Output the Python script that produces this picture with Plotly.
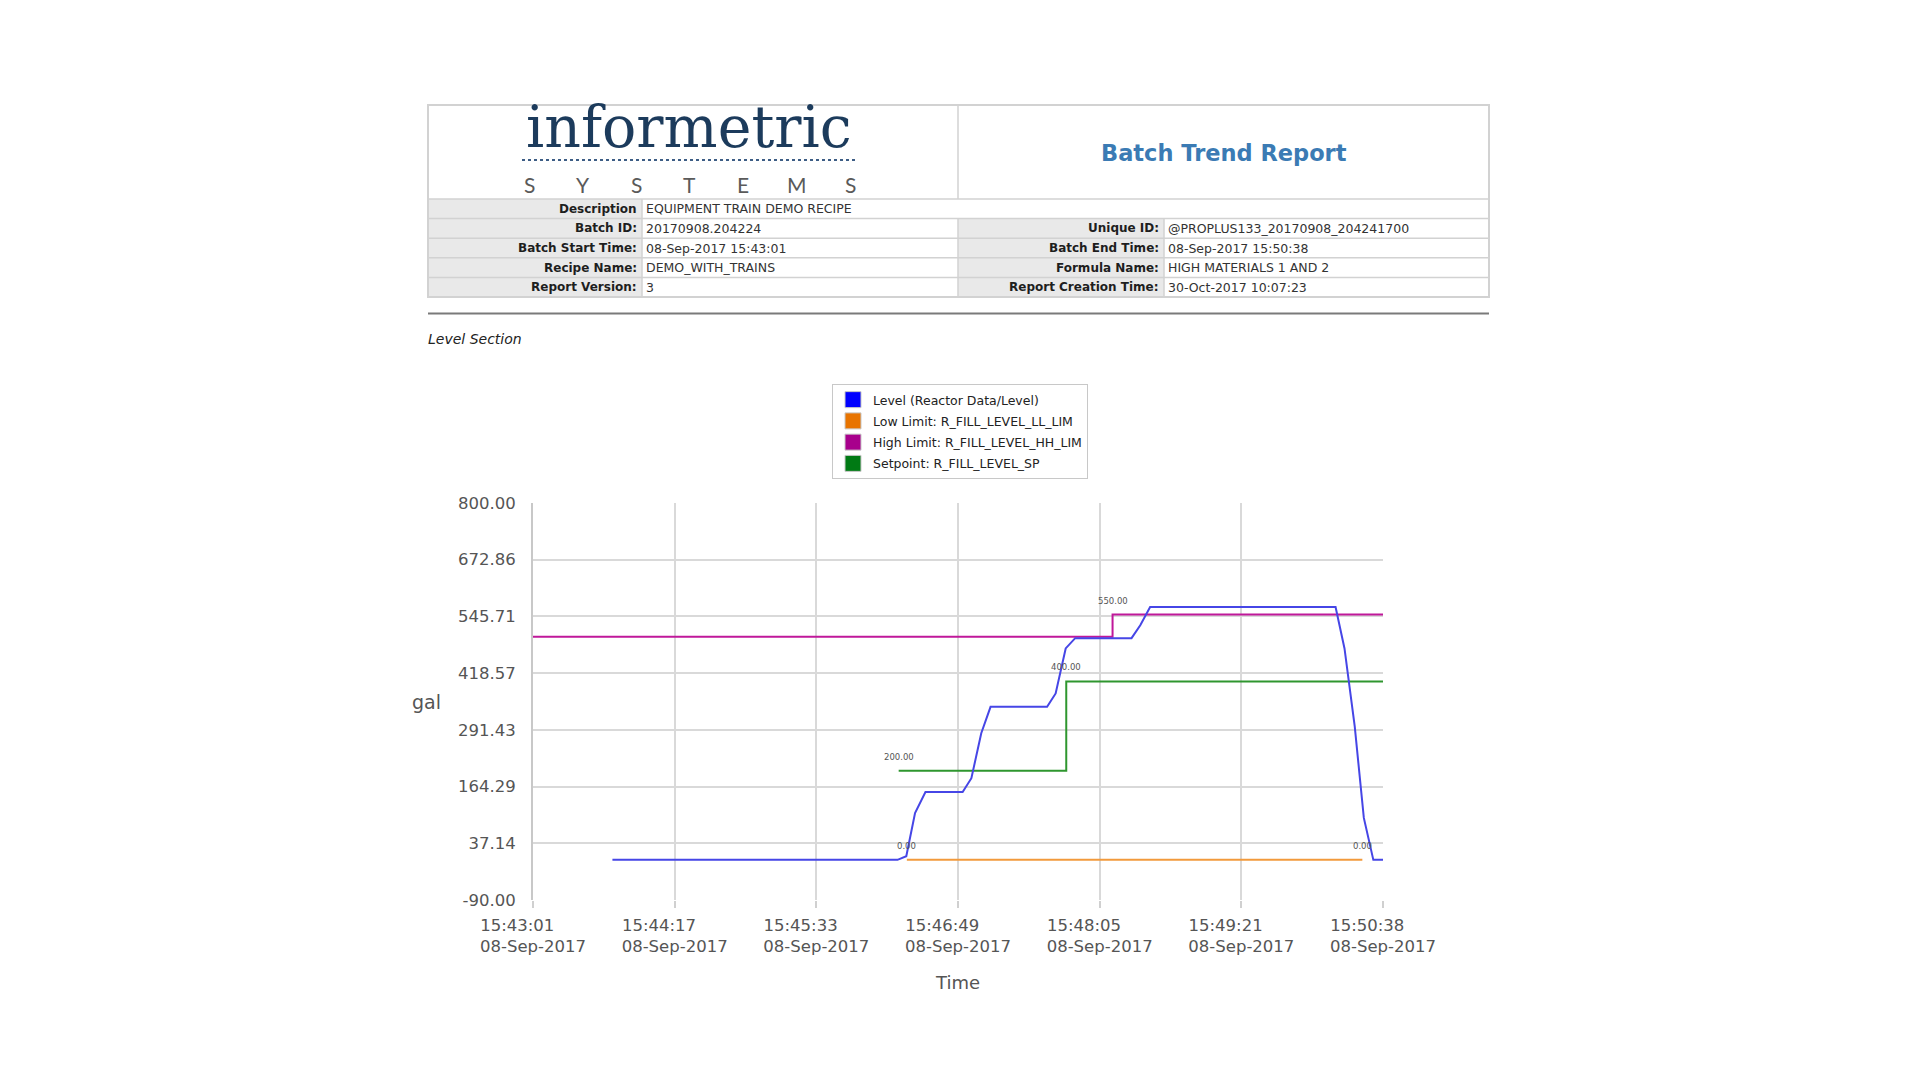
import datetime as dt
import plotly.graph_objects as go

# ---------------- data ----------------
batch_start = dt.datetime(2017, 9, 8, 15, 43, 1)
batch_seconds = 457  # 15:43:01 -> 15:50:38

level_name = "Level (Reactor Data/Level)"
level_t = [42.7, 196.0, 200.7, 205.4, 211.0, 231.0, 235.7, 241.0, 246.0, 276.4, 281.0,
           286.4, 291.5, 321.8, 326.5, 331.8, 431.5, 436.3, 441.8, 446.7, 451.8, 457.0]
level_v = [0, 0, 8, 105, 152, 152, 183, 284, 343, 343, 373,
           474, 497, 497, 526, 567, 567, 474, 299, 94, 0, 0]

low_name = "Low Limit: R_FILL_LEVEL_LL_LIM"
low_t = [201.0, 445.9]
low_v = [0.0, 0.0]

high_name = "High Limit: R_FILL_LEVEL_HH_LIM"
high_t = [0.0, 311.6, 457.0]
high_v = [500.0, 550.0, 550.0]

sp_name = "Setpoint: R_FILL_LEVEL_SP"
sp_t = [196.6, 286.7, 457.0]
sp_v = [200.0, 400.0, 400.0]

y_min, y_max = -90.0, 800.0
n_y_intervals = 7
x_tick_times = ["15:43:01", "15:44:17", "15:45:33", "15:46:49", "15:48:05", "15:49:21", "15:50:38"]
x_tick_date = "08-Sep-2017"

desc_label, desc_value = "Description", "EQUIPMENT TRAIN DEMO RECIPE"
left_labels = ["Batch ID:", "Batch Start Time:", "Recipe Name:", "Report Version:"]
left_values = ["20170908.204224", "08-Sep-2017 15:43:01", "DEMO_WITH_TRAINS", "3"]
right_labels = ["Unique ID:", "Batch End Time:", "Formula Name:", "Report Creation Time:"]
right_values = ["@PROPLUS133_20170908_204241700", "08-Sep-2017 15:50:38",
                "HIGH MATERIALS 1 AND 2", "30-Oct-2017 10:07:23"]

# ---------------- helpers ----------------
W_PX, H_PX = 1920, 1080
PL, PR, PT, PB = 533, 1383, 503, 900     # plot area in pixels
PW, PH = PR - PL, PB - PT


def px(x):
    return (x - PL) / PW


def py(y):
    return (PB - y) / PH


def to_time(s):
    return batch_start + dt.timedelta(seconds=s)


FONT = "DejaVu Sans"
line_colors = {"level": "#4646e6", "low": "#f29a3c", "high": "#c0189a", "sp": "#2f962f"}
legend_colors = {"level": "#0000ff", "low": "#e87400", "high": "#a8008c", "sp": "#007a14"}

fig = go.Figure()

series = [
    ("level", level_name, level_t, level_v, "linear"),
    ("low", low_name, low_t, low_v, "hv"),
    ("high", high_name, high_t, high_v, "hv"),
    ("sp", sp_name, sp_t, sp_v, "hv"),
]
# draw order: limits first, level on top
for key, name, ts, vs, shape in [series[2], series[3], series[1], series[0]]:
    fig.add_trace(go.Scatter(
        x=[to_time(t) for t in ts], y=vs, mode="lines", name=name, legendgroup=key,
        line=dict(color=line_colors[key], width=2, shape=shape),
        showlegend=False, hoverinfo="skip"))

# legend proxies (square swatches)
for key, name, ts, vs, shape in series:
    fig.add_trace(go.Scatter(
        x=[None], y=[None], mode="markers", name=name, legendgroup=key,
        marker=dict(symbol="square", size=16, color=legend_colors[key],
                    line=dict(color="#c8c8c8", width=1)),
        showlegend=True))

# data labels at set-point / limit change points
label_points = [(sp_t[0], sp_v[0]), (sp_t[1], sp_v[1]), (high_t[1], high_v[1]),
                (low_t[0], low_v[0]), (low_t[1], low_v[1])]
annotations = []
for t, v in label_points:
    annotations.append(dict(x=to_time(t), y=v, xref="x", yref="y", text=f"{v:.2f}",
                            showarrow=False, yshift=14, xanchor="center", yanchor="middle",
                            font=dict(family=FONT, size=8.5, color="#555")))

# ---------------- header (report table) ----------------
shapes = []
TBL_L, TBL_R, TBL_T, HDR_B = 428, 1489, 105, 199
ROW_H = 19.6
MID, LBL1, LBL2 = 958, 642, 1164
TBL_B = HDR_B + 5 * ROW_H
BORDER = "#d2d2d2"
GREY = "#e9e9e9"


def rect(x0, y0, x1, y1, fill=None, line=None, width=1.5):
    shapes.append(dict(type="rect", xref="paper", yref="paper",
                       x0=px(x0), x1=px(x1), y0=py(y1), y1=py(y0),
                       fillcolor=fill if fill else "rgba(0,0,0,0)",
                       line=dict(color=line if line else "rgba(0,0,0,0)", width=width if line else 0),
                       layer="below"))


def hline(x0, x1, y, color=BORDER, width=1.5, dash=None):
    d = dict(type="line", xref="paper", yref="paper", x0=px(x0), x1=px(x1), y0=py(y), y1=py(y),
             line=dict(color=color, width=width))
    if dash:
        d["line"]["dash"] = dash
    shapes.append(d)


def vline(x, y0, y1, color=BORDER, width=1.5):
    shapes.append(dict(type="line", xref="paper", yref="paper", x0=px(x), x1=px(x),
                       y0=py(y0), y1=py(y1), line=dict(color=color, width=width)))


def text_at(x, y, text, size, color, family=FONT, xanchor="center", weight=None):
    f = dict(family=family, size=size, color=color)
    if weight:
        f["weight"] = weight
    annotations.append(dict(x=px(x), y=py(y), xref="paper", yref="paper", text=text,
                            showarrow=False, xanchor=xanchor, yanchor="middle", font=f))


# grey label cells
rect(TBL_L, HDR_B, LBL1, TBL_B, fill=GREY)
rect(MID, HDR_B + ROW_H, LBL2, TBL_B, fill=GREY)
# outer border
rect(TBL_L, TBL_T, TBL_R, TBL_B, line=BORDER, width=2)
vline(MID, TBL_T, HDR_B)
hline(TBL_L, TBL_R, HDR_B)
for k in range(1, 5):
    hline(TBL_L, TBL_R, HDR_B + k * ROW_H)
vline(LBL1, HDR_B, TBL_B)
vline(MID, HDR_B + ROW_H, TBL_B)
vline(LBL2, HDR_B + ROW_H, TBL_B)

# logo
text_at(689, 127, "informetric", 57, "#1c3b5c", family="DejaVu Serif")
hline(522, 858, 160, color="#3d5d85", width=2, dash="dot")
logo_letters = "SYSTEMS"
for i, ch in enumerate(logo_letters):
    text_at(529 + i * 53.5, 184, ch, 21, "#5a5a5a", family="Lato")

# title
text_at((MID + TBL_R) / 2, 153, "<b>Batch Trend Report</b>", 22.5, "#3b7bb4")

row_c = HDR_B + ROW_H / 2
text_at(LBL1 - 3, row_c, f"<b>{desc_label}</b>", 12, "#1e1e1e", xanchor="right")
text_at(LBL1 + 2, row_c, desc_value, 12.5, "#333", xanchor="left")
for k in range(4):
    yc = HDR_B + (k + 1.5) * ROW_H
    text_at(LBL1 - 3, yc, f"<b>{left_labels[k]}</b>", 12, "#1e1e1e", xanchor="right")
    text_at(LBL1 + 2, yc, left_values[k], 12.5, "#333", xanchor="left")
    text_at(LBL2 - 3, yc, f"<b>{right_labels[k]}</b>", 12, "#1e1e1e", xanchor="right")
    text_at(LBL2 + 2, yc, right_values[k], 12.5, "#333", xanchor="left")

# separator rule and section title
hline(TBL_L, TBL_R, 313.5, color="#7a7a7a", width=2)
text_at(426, 339, "<i>Level Section</i>", 14, "#222", xanchor="left")

# y-axis title (horizontal)
annotations.append(dict(x=px(443), y=0.5, xref="paper", yref="paper", text="gal",
                        showarrow=False, xanchor="right", yanchor="middle",
                        font=dict(family=FONT, size=19, color="#555")))

# ---------------- axes ----------------
y_step = (y_max - y_min) / n_y_intervals
y_ticks = [y_min + i * y_step for i in range(n_y_intervals + 1)]
x_ticks = [to_time(batch_seconds * i / (len(x_tick_times) - 1)) for i in range(len(x_tick_times))]
# time line padded so both lines share the same left edge
x_text = [f"{tm}{chr(160) * 6}<br>{x_tick_date}" for tm in x_tick_times]

fig.update_layout(
    width=W_PX, height=H_PX, autosize=False,
    margin=dict(l=PL, r=W_PX - PR, t=PT, b=H_PX - PB, pad=0),
    paper_bgcolor="white", plot_bgcolor="white",
    font=dict(family=FONT, color="#555"),
    shapes=shapes, annotations=annotations,
    legend=dict(x=px(832), y=py(384), xanchor="left", yanchor="top",
                bgcolor="white", bordercolor="#c8c8c8", borderwidth=1,
                font=dict(family=FONT, size=12.5, color="#222"),
                itemwidth=30, traceorder="grouped", tracegroupgap=2),
    xaxis=dict(type="date", range=[x_ticks[0], x_ticks[-1]], tickvals=x_ticks, ticktext=x_text,
               showgrid=True, gridcolor="#d9d9d9", gridwidth=1.5, showline=False, zeroline=False,
               ticks="outside", ticklen=7, tickwidth=1.5, tickcolor="#d0d0d0",
               ticklabelstandoff=3, tickfont=dict(family=FONT, size=16.5, color="#555"),
               title=dict(text="Time", standoff=21, font=dict(family=FONT, size=18, color="#555"))),
    yaxis=dict(range=[y_min, y_max], tickvals=y_ticks, ticktext=[f"{v:.2f}" for v in y_ticks],
               showgrid=True, gridcolor="#d9d9d9", gridwidth=1.5, zeroline=False,
               showline=True, linecolor="#c8c8c8", linewidth=2, ticks="",
               ticklabelstandoff=12, tickfont=dict(family=FONT, size=16.5, color="#555")),
)

fig.write_html("out.html", config={"displayModeBar": False})
